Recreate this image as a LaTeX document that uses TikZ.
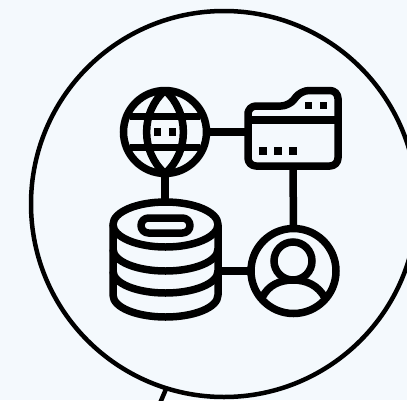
\documentclass[tikz,border=0pt]{standalone}
\definecolor{bgc}{HTML}{F4F9FD}
\tikzset{
  ink/.style={draw=black,line width=7.5pt,line join=round},
  ringnode/.style={circle,draw=black,line width=7.5pt,inner sep=0pt,outer sep=0pt,minimum size=83pt},
  dot/.style={fill=black,draw=none,minimum size=7.5pt,inner sep=0pt,outer sep=0pt,rectangle},
  link/.style={draw=black,line width=7.5pt}
}
\begin{document}
\begin{tikzpicture}[x=1pt,y=-1pt]
\useasboundingbox (0,0) rectangle (407,400);
\fill[bgc] (0,0) rectangle (407,400);
\clip (0,0) rectangle (407,400);
% big circle and tail
\node[circle,draw=black,line width=4.5pt,minimum size=386pt,inner sep=0pt,outer sep=0pt] (big) at (224,204) {};
\coordinate (tailA) at (166,389);
\coordinate (tailB) at (160.5,402);
\draw[black,line width=4.5pt] (tailA) -- (tailB);
% globe
\node[ringnode] (globe) at (165,132) {};
\draw[ink] (globe.north) .. controls (140.5,112) and (140.5,152) .. (globe.south);
\draw[ink] (globe.north) .. controls (189.5,112) and (189.5,152) .. (globe.south);
\draw[ink] (130,116.5) -- (200,116.5);
\draw[ink] (130,147.5) -- (200,147.5);
\node[dot] (g1) at (157.5,132) {};
\node[dot] (g2) at (172.5,132) {};
% folder
\coordinate (folderW) at (248,131);
\coordinate (folderS) at (293,166);
\draw[ink,rounded corners=8pt] (248,120) -- (248,106) -- (289,106) -- (301,90.5) -- (338,90.5) -- (338,166) -- (248,166) -- cycle;
\draw[ink] (248,120) -- (338,120);
\foreach \n/\x/\y in {a/263/151,b/278/151,c/293/151,d/308.5/105.5,e/323.5/105.5}
  \node[dot] (f\n) at (\x,\y) {};
% database
\coordinate (dbN) at (165,202);
\coordinate (dbE) at (218,271);
\draw[ink] (165.5,224.5) ellipse [x radius=52.5,y radius=22.5];
\draw[ink] (113,224.5) -- (113,295) .. controls (113,308) and (138,317) .. (165.5,317) .. controls (193,317) and (218,308) .. (218,295) -- (218,224.5);
\draw[ink] (113,249) .. controls (113,262) and (138,271) .. (165.5,271) .. controls (193,271) and (218,262) .. (218,249);
\draw[ink] (113,271) .. controls (113,284) and (138,293) .. (165.5,293) .. controls (193,293) and (218,284) .. (218,271);
\draw[ink,rounded corners=7.5pt] (141,218) rectangle (190,233);
% person
\node[ringnode,minimum size=85pt] (person) at (293.5,271) {};
\node[circle,draw=black,line width=7.5pt,inner sep=0pt,outer sep=0pt,minimum size=38pt] (head) at (293,261) {};
\draw[ink] (262,298) .. controls (268,285) and (280,280) .. (293,280) .. controls (306,280) and (318,285) .. (325,298);
% connectors
\draw[link] (globe.east) -- (globe.east -| folderW);
\draw[link] (globe.south) -- (dbN);
\draw[link] (folderS) -- (person.north);
\draw[link] (dbE) -- (person.west);
\end{tikzpicture}
\end{document}
